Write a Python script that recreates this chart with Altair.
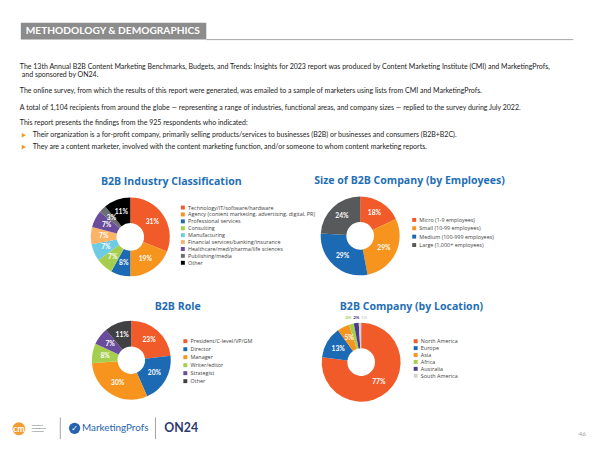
import altair as alt
import pandas as pd

FONT = "Lato"
O = 8  # page margin of the embedding page

# ---------------- data ----------------
header_text = "METHODOLOGY & DEMOGRAPHICS"
intro_lines = [
    "The 13th Annual B2B Content Marketing Benchmarks, Budgets, and Trends: Insights for 2023 report was produced by Content Marketing Institute (CMI) and MarketingProfs,",
    "and sponsored by ON24.",
    "The online survey, from which the results of this report were generated, was emailed to a sample of marketers using lists from CMI and MarketingProfs.",
    "A total of 1,104 recipients from around the globe \u2014 representing a range of industries, functional areas, and company sizes \u2014 replied to the survey during July 2022.",
    "This report presents the findings from the 925 respondents who indicated:",
]
bullets = [
    "Their organization is a for-profit company, primarily selling products/services to businesses (B2B) or businesses and consumers (B2B+B2C).",
    "They are a content marketer, involved with the content marketing function, and/or someone to whom content marketing reports.",
]

industry_title = "B2B Industry Classification"
industry_cats = [
    "Technology/IT/software/hardware",
    "Agency (content marketing, advertising, digital, PR)",
    "Professional services",
    "Consulting",
    "Manufacturing",
    "Financial services/banking/insurance",
    "Healthcare/med/pharma/life sciences",
    "Publishing/media",
    "Other",
]
industry_vals = [31, 19, 8, 7, 7, 7, 7, 3, 11]
industry_colors = ["#F15A29", "#F7941D", "#1C6AB3", "#A6CE4E", "#6DCBE3", "#FBB366", "#6A4C9C", "#6D6E71", "#000000"]

employees_title = "Size of B2B Company (by Employees)"
employees_cats = ["Micro (1-9 employees)", "Small (10-99 employees)", "Medium (100-999 employees)", "Large (1,000+ employees)"]
employees_vals = [18, 29, 29, 24]
employees_colors = ["#F15A29", "#F7941D", "#1C6AB3", "#58595B"]

role_title = "B2B Role"
role_cats = ["President/C-level/VP/GM", "Director", "Manager", "Writer/editor", "Strategist", "Other"]
role_vals = [23, 20, 30, 8, 7, 11]
role_colors = ["#F15A29", "#1C6AB3", "#F7941D", "#A6CE4E", "#6A4C9C", "#414042"]

location_title = "B2B Company (by Location)"
location_cats = ["North America", "Europe", "Asia", "Africa", "Australia", "South America"]
location_vals = [77, 13, 5, 2, 2, 1]
location_colors = ["#F15A29", "#1C6AB3", "#F7941D", "#A6CE4E", "#4B3A8E", "#D1D3D4"]

footer_cmi = ["CONTENT", "MARKETING", "INSTITUTE"]
page_number = "46"

# ---------------- helpers ----------------
ONE = alt.Data(values=[{"a": 1}])


def T(s, x, y, size, color, weight="normal", align="left", font=FONT):
    return alt.Chart(ONE).mark_text(
        text=s, fontSize=size, color=color, fontWeight=weight, align=align,
        baseline="middle", font=font,
    ).encode(x=alt.value(x - O), y=alt.value(y - O))


def pie(cats, vals, colors, cx, cy, lx, ly, row_pad, inside_min=0):
    df = pd.DataFrame({"cat": cats, "value": vals, "i": list(range(len(cats)))})
    scale = alt.Scale(domain=cats, range=colors)
    base = alt.Chart(df).encode(
        theta=alt.Theta("value:Q", stack=True),
        order=alt.Order("i:Q"),
        x=alt.value(cx - O),
        y=alt.value(cy - O),
    )
    arc = base.mark_arc(innerRadius=14, outerRadius=40).encode(
        color=alt.Color(
            "cat:N", scale=scale,
            legend=alt.Legend(
                title=None, orient="none", legendX=lx - O, legendY=ly - O,
                direction="vertical", symbolType="square", symbolSize=16,
                symbolStrokeWidth=0, labelFontSize=5.5, labelFont="Open Sans",
                labelColor="#404040", rowPadding=row_pad, labelOffset=2.5,
                padding=0, labelLimit=300,
            ),
        )
    )
    lab = base.transform_calculate(
        lbl=f"datum.value >= {inside_min} ? datum.value + '%' : ''"
    ).mark_text(
        radius=27, fontSize=6.8, fontWeight="bold", color="white", font=FONT
    ).encode(detail="cat:N", text="lbl:N")
    return [arc, lab]


layers = []

# header bar
layers.append(alt.Chart(ONE).mark_rect(color="#8C8C8C").encode(
    x=alt.value(21 - O), x2=alt.value(209 - O), y=alt.value(20 - O), y2=alt.value(37 - O)))
layers.append(alt.Chart(ONE).mark_rule(color="#A6A6A6", strokeWidth=1).encode(
    x=alt.value(209 - O), x2=alt.value(581 - O), y=alt.value(37 - O)))
layers.append(T(header_text, 26, 28.5, 10.3, "white", weight="bold"))

# intro text
intro_pos = [(20, 64.5), (22, 73), (20, 89), (20, 106), (20, 122)]
for s, (x, y) in zip(intro_lines, intro_pos):
    layers.append(T(s, x, y, 7.1, "#222222"))
bullet_y = [134, 146]
for s, y in zip(bullets, bullet_y):
    layers.append(alt.Chart(ONE).mark_point(shape="triangle-right", filled=True, size=22,
                                            color="#F7941D", opacity=1).encode(
        x=alt.value(24 - O), y=alt.value(y - O)))
    layers.append(T(s, 33, y, 7.1, "#222222"))

# titles
TITLE_C = "#1F6FB5"
TF = "Open Sans"
layers.append(T(industry_title, 173.5, 181, 10.7, TITLE_C, weight="bold", align="center", font=TF))
layers.append(T(employees_title, 415, 180, 10.7, TITLE_C, weight="bold", align="center", font=TF))
layers.append(T(role_title, 180, 308, 10.7, TITLE_C, weight="bold", align="center", font=TF))
layers.append(T(location_title, 417, 308, 10.7, TITLE_C, weight="bold", align="center", font=TF))

# pies
layers += pie(industry_cats, industry_vals, industry_colors, 132, 237, 182.5, 204.5, -0.2)
layers += pie(employees_cats, employees_vals, employees_colors, 365, 236, 417, 217, 1.5)
layers += pie(role_cats, role_vals, role_colors, 133, 362, 185, 340, 1.1)
layers += pie(location_cats, location_vals, location_colors, 366, 364, 418.5, 340, -0.2, inside_min=5)

# small outside labels of the location pie
loc_df = pd.DataFrame({"cat": location_cats, "value": location_vals})
small_cats = [c for c, v in zip(location_cats, location_vals) if v < 5]
layers.append(
    alt.Chart(loc_df).transform_filter("datum.value < 5").transform_calculate(
        lbl="datum.value + '%'"
    ).mark_text(fontSize=4.5, fontWeight="bold", font=FONT).encode(
        x=alt.X("cat:N", scale=alt.Scale(domain=small_cats, range=[353 - O, 369 - O], padding=0), axis=None),
        y=alt.value(319 - O),
        text="lbl:N",
        color=alt.Color("cat:N", scale=alt.Scale(domain=location_cats, range=location_colors), legend=None),
    )
)

# footer logos
layers.append(alt.Chart(ONE).mark_circle(size=170, color="#F39C32", opacity=1).encode(
    x=alt.value(19 - O), y=alt.value(431.5 - O)))
layers.append(T("cm", 19, 431.5, 9, "white", weight="bold", align="center"))
for k, s in enumerate(footer_cmi):
    layers.append(T(s, 32, 427.5 + 3 * k, 2.4, "#555555", weight="bold"))
layers.append(alt.Chart(ONE).mark_rule(color="#8A8A8A", strokeWidth=0.8).encode(
    x=alt.value(61 - O), y=alt.value(420 - O), y2=alt.value(442 - O)))
layers.append(alt.Chart(ONE).mark_rule(color="#8A8A8A", strokeWidth=0.8).encode(
    x=alt.value(157.5 - O), y=alt.value(420 - O), y2=alt.value(442 - O)))
layers.append(alt.Chart(ONE).mark_circle(size=130, color="#2563AE", opacity=1).encode(
    x=alt.value(75.5 - O), y=alt.value(431 - O)))
layers.append(T("\u2713", 75.5, 431.5, 8, "white", weight="bold", align="center", font="DejaVu Sans"))
layers.append(T("MarketingProfs", 83, 431, 10, "#2563AE"))
layers.append(T("ON24", 166.5, 431, 12.5, "#2B3A6E", weight="bold"))
layers.append(T(page_number, 590, 437, 6.5, "#A0A0A0", align="center"))

chart = alt.layer(*layers).resolve_scale(
    theta="independent", color="independent"
).properties(
    width=592, height=442, autosize=alt.AutoSizeParams(type="none"), padding=0,
    background="white",
).configure_view(strokeWidth=0)

chart.save("out.html", embed_options={"renderer": "svg", "actions": False})
